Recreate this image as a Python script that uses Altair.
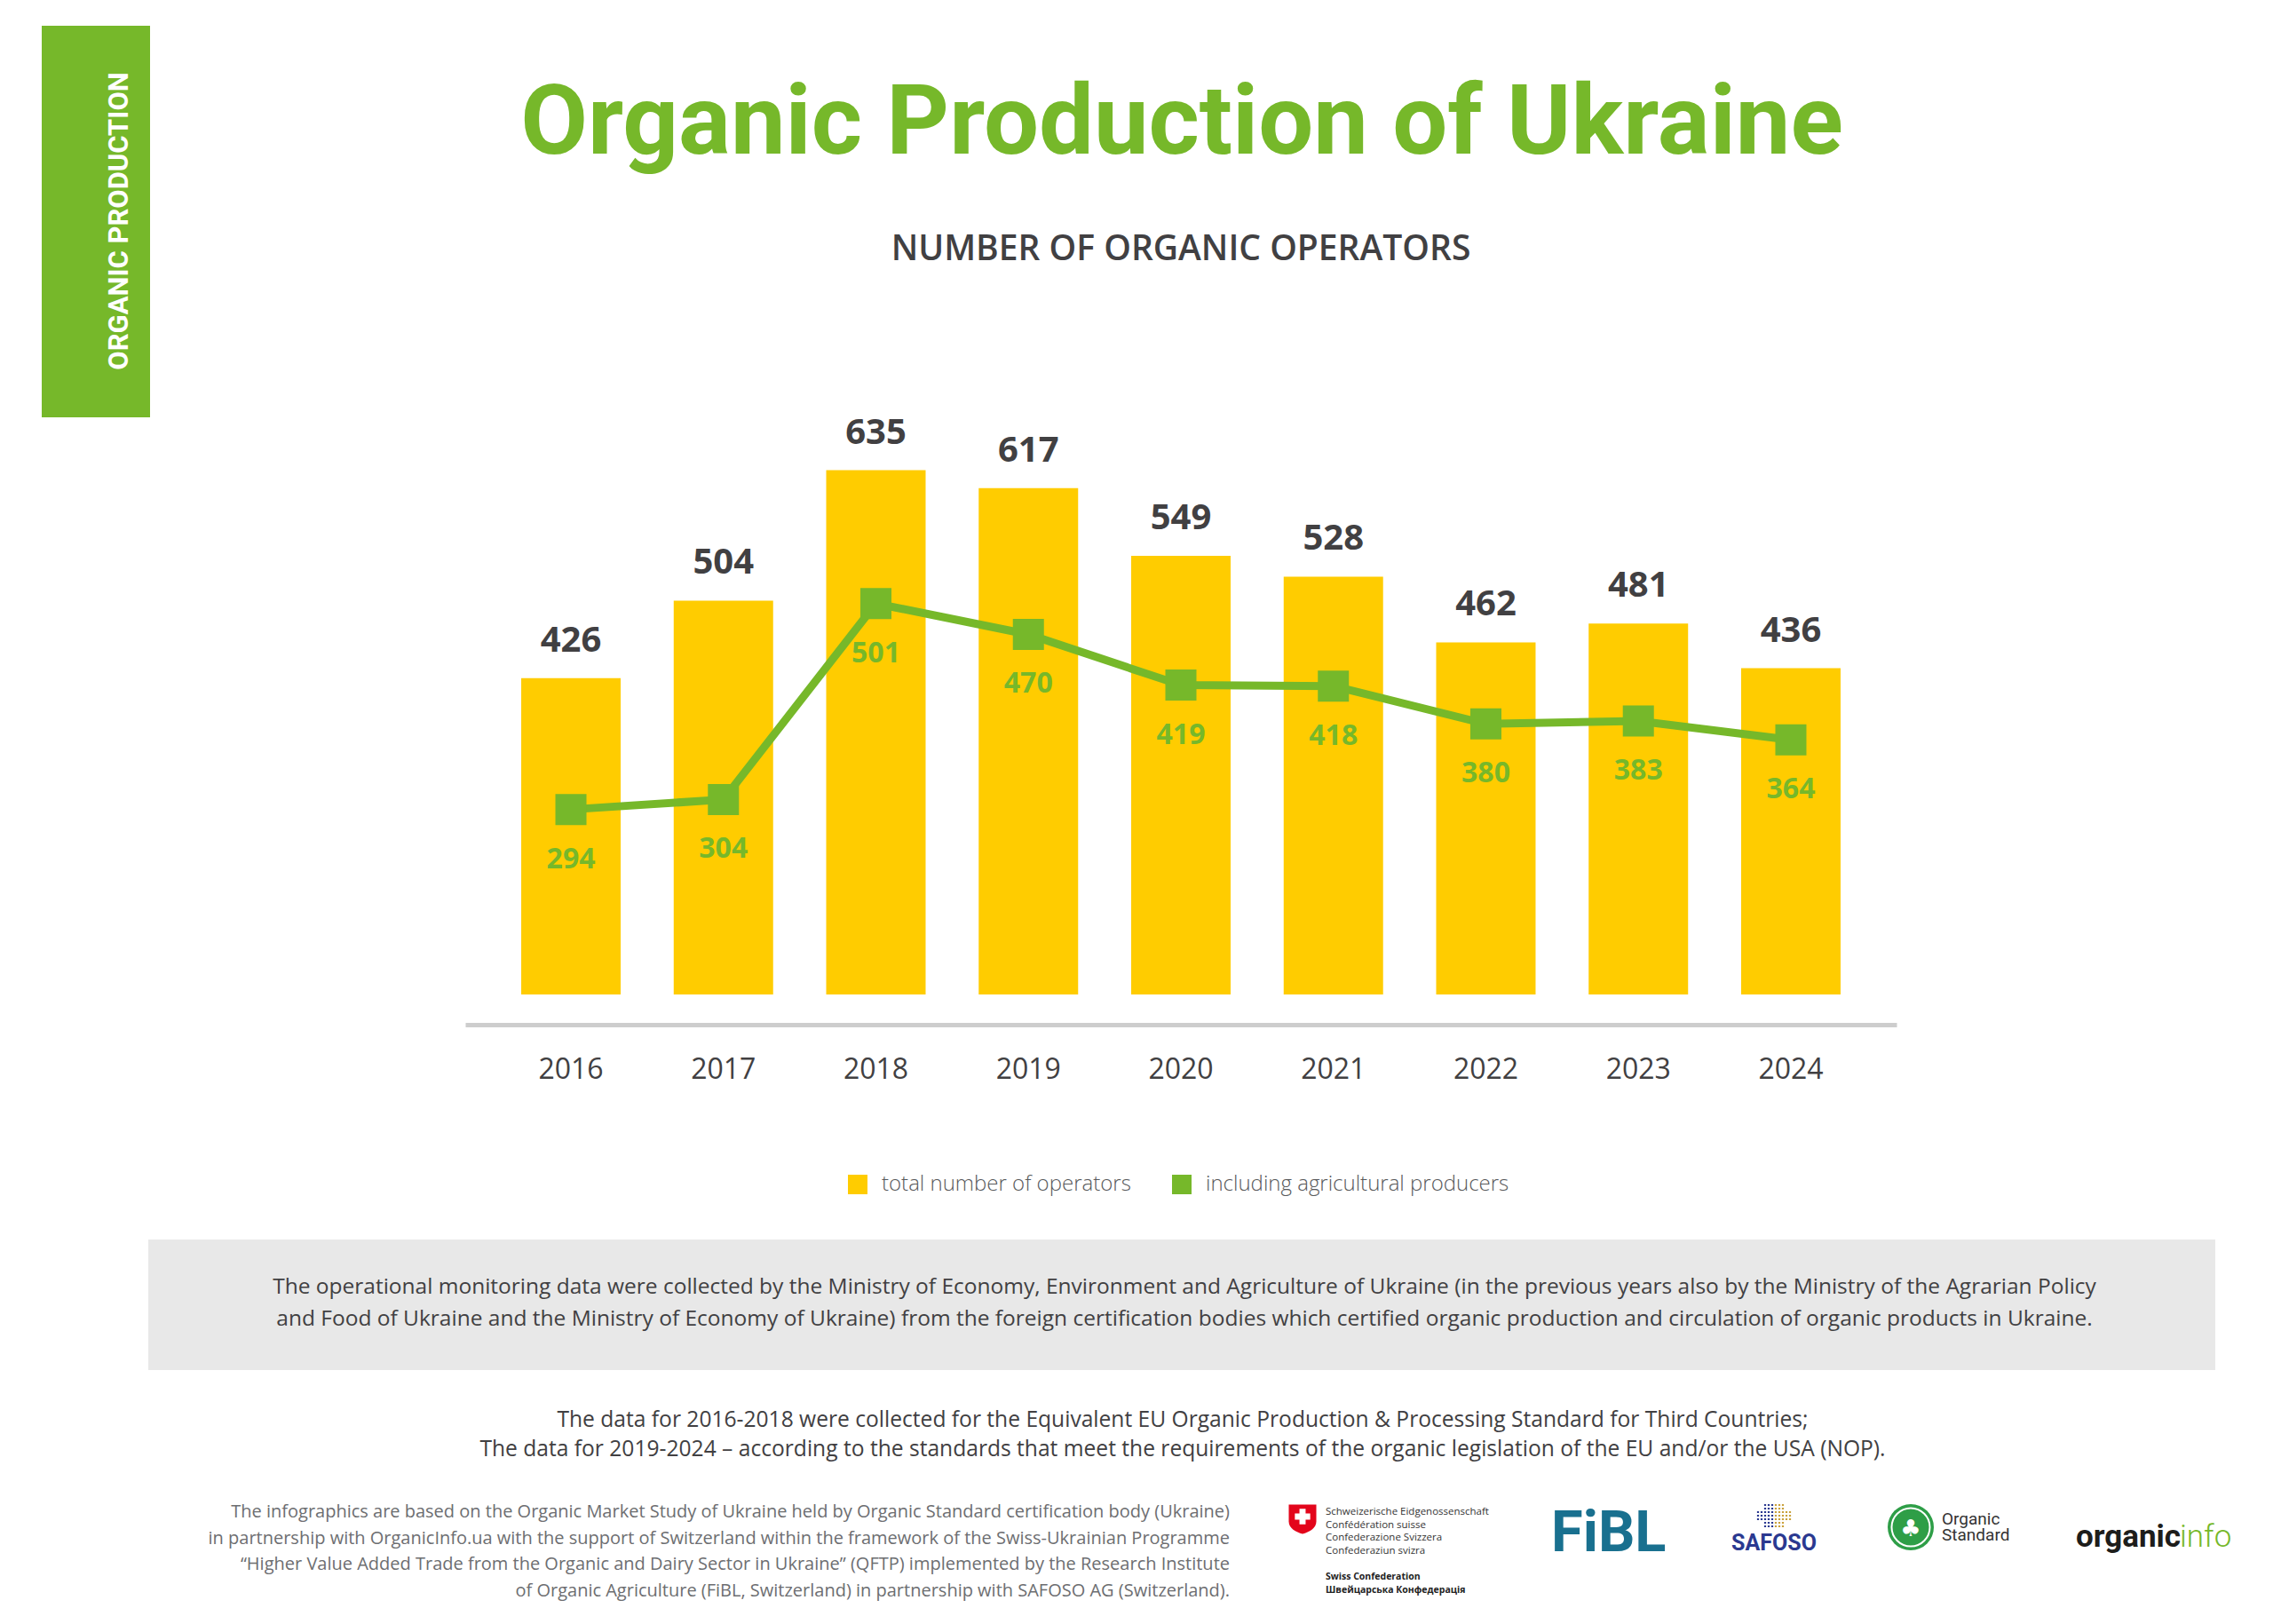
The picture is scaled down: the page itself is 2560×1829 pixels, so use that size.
import altair as alt
import pandas as pd

# ---------------------------------------------------------------- data
years = ["2016", "2017", "2018", "2019", "2020", "2021", "2022", "2023", "2024"]
total_operators = [426, 504, 635, 617, 549, 528, 462, 481, 436]
agri_producers = [294, 304, 501, 470, 419, 418, 380, 383, 364]
series_names = ["total number of operators", "including agricultural producers"]

# ---------------------------------------------------------------- texts
TITLE = "Organic Production of Ukraine"
SUBTITLE = "NUMBER OF ORGANIC OPERATORS"
SIDE_TAB = "ORGANIC PRODUCTION"
BOX_NOTE = [
    "The operational monitoring data were collected by the Ministry of Economy, Environment and Agriculture of Ukraine (in the previous years also by the Ministry of the Agrarian Policy",
    "and Food of Ukraine and the Ministry of Economy of Ukraine) from the foreign certification bodies which certified organic production and circulation of organic products in Ukraine.",
]
DATA_NOTE = [
    "The data for 2016-2018 were collected for the Equivalent EU Organic Production & Processing Standard for Third Countries;",
    "The data for 2019-2024 \u2013 according to the standards that meet the requirements of the organic legislation of the EU and/or the USA (NOP).",
]
CREDITS = [
    "The infographics are based on the Organic Market Study of Ukraine held by Organic Standard certification body (Ukraine)",
    "in partnership with OrganicInfo.ua with the support of Switzerland within the framework of the Swiss-Ukrainian Programme",
    "\u201cHigher Value Added Trade from the Organic and Dairy Sector in Ukraine\u201d (QFTP) implemented by the Research Institute",
    "of Organic Agriculture (FiBL, Switzerland) in partnership with SAFOSO AG (Switzerland).",
]
SWISS_NAMES = [
    "Schweizerische Eidgenossenschaft",
    "Conf\u00e9d\u00e9ration suisse",
    "Confederazione Svizzera",
    "Confederaziun svizra",
]
SWISS_EN_UA = ["Swiss Confederation", "\u0428\u0432\u0435\u0439\u0446\u0430\u0440\u0441\u044c\u043a\u0430 \u041a\u043e\u043d\u0444\u0435\u0434\u0435\u0440\u0430\u0446\u0456\u044f"]

# ---------------------------------------------------------------- style
YELLOW = "#FFCC00"
GREEN = "#76B82A"
DARK = "#414042"
GREY_TEXT = "#6D6E71"
BOX_GREY = "#E8E8E8"
AXIS_GREY = "#CDCDCD"
NARROW = "Liberation Sans Narrow, Open Sans, sans-serif"

PAGE_W, PAGE_H = 2560, 1829
PLOT_LEFT, PLOT_TOP, PLOT_W, PLOT_H = 524, 440, 1612, 680
Y_DOMAIN = [108, 715]

# ---------------------------------------------------------------- table
records = [
    {"year": y, "series": series_names[0], "value": v}
    for y, v in zip(years, total_operators)
] + [
    {"year": y, "series": series_names[1], "value": v}
    for y, v in zip(years, agri_producers)
]
df = pd.DataFrame(records)
totals = df[df["series"] == series_names[0]]
agri = df[df["series"] == series_names[1]]

# ---------------------------------------------------------------- encodings
x_enc = alt.X(
    "year:O",
    sort=years,
    title=None,
    scale=alt.Scale(paddingInner=0.348, paddingOuter=0.367),
    axis=alt.Axis(
        labelAngle=0,
        ticks=False,
        tickSize=0,
        grid=False,
        domainColor=AXIS_GREY,
        domainWidth=5,
        offset=34,
        labelFont=NARROW,
        labelFontSize=32,
        labelColor=DARK,
        labelBaseline="alphabetic",
        labelPadding=60,
    ),
)
y_enc = alt.Y("value:Q", scale=alt.Scale(domain=Y_DOMAIN, nice=False, zero=False), axis=None)
color_enc = alt.Color(
    "series:N",
    scale=alt.Scale(domain=series_names, range=[YELLOW, GREEN]),
    legend=alt.Legend(
        title=None,
        orient="none",
        legendX=430,
        legendY=882,
        direction="horizontal",
        symbolType="square",
        symbolSize=484,
        symbolStrokeWidth=0,
        symbolOpacity=1,
        labelFont="Open Sans",
        labelFontSize=24,
        labelFontWeight=300,
        labelColor="#58595B",
        labelOffset=15,
        labelLimit=800,
        columnPadding=45,
        padding=0,
    ),
)

bars = alt.Chart(totals).mark_bar().encode(
    x=x_enc, y=y_enc, y2=alt.datum(Y_DOMAIN[0]), color=color_enc
)
line = alt.Chart(agri).mark_line(color=GREEN, strokeWidth=9).encode(x=x_enc, y=y_enc)
points = alt.Chart(agri).mark_point(shape="square", filled=True, size=1225, opacity=1).encode(
    x=x_enc, y=y_enc, color=color_enc
)
total_labels = alt.Chart(totals).mark_text(
    font=NARROW, fontWeight="bold", fontSize=40, color=DARK, baseline="alphabetic", dy=-30
).encode(x=x_enc, y=y_enc, text="value:Q")
agri_labels = alt.Chart(agri).mark_text(
    font=NARROW, fontWeight="bold", fontSize=32, color=GREEN, baseline="alphabetic", dy=66
).encode(x=x_enc, y=y_enc, text="value:Q")


# ---------------------------------------------------------------- page furniture
def px(x):
    return alt.value(x - PLOT_LEFT)


def py(y):
    return alt.value(y - PLOT_TOP)


def text_block(lines, x, y, **style):
    return alt.Chart(pd.DataFrame({"txt": ["\n".join(lines)]})).mark_text(
        lineBreak="\n", **style
    ).encode(x=px(x), y=py(y), text="txt:N")


def rect_block(x0, y0, x1, y1, color):
    return alt.Chart(pd.DataFrame({"k": [0]})).mark_rect(color=color).encode(
        x=px(x0), x2=px(x1), y=py(y0), y2=py(y1)
    )


def symbol(shape, x, y, size, **style):
    return alt.Chart(pd.DataFrame({"k": [0]})).mark_point(shape=shape, size=size, **style).encode(
        x=px(x), y=py(y)
    )


def dot_grid(cols, rows, col_range):
    # little squares arranged as a plus shape, for the SAFOSO emblem
    step = 2.0 / cols
    d = step * 0.55
    parts = []
    for r in range(rows):
        for c in range(col_range[0], col_range[1]):
            corner = (c < 2 or c > cols - 3) and (r < 2 or r > rows - 3)
            if corner:
                continue
            cx = -1 + (c + 0.5) * step
            cy = -1 + (r + 0.5 + (cols - rows) / 2) * step
            parts.append(f"M{cx - d/2:.3f},{cy - d/2:.3f}h{d:.3f}v{d:.3f}h{-d:.3f}Z")
    return "".join(parts)


SHIELD = "M-0.94,-1 L0.94,-1 L0.94,0.15 C0.94,0.62 0.45,0.88 0,1 C-0.45,0.88 -0.94,0.62 -0.94,0.15 Z"

side_tab = rect_block(47, 29, 169, 470, GREEN)
side_text = text_block([SIDE_TAB], 135, 249, font="Roboto", fontWeight="bold", fontSize=31,
                       color="white", angle=270, align="center", baseline="middle")
title = text_block([TITLE], 1331, 173, font="Roboto", fontWeight="bold", fontSize=110,
                   color=GREEN, align="center", baseline="alphabetic")
subtitle = text_block([SUBTITLE], 1330, 293, font="Open Sans", fontWeight=600, fontSize=39,
                      color=DARK, align="center", baseline="alphabetic")

note_box = rect_block(167, 1396, 2495, 1543, BOX_GREY)
note_text = text_block(BOX_NOTE, 1334, 1457, font="Open Sans", fontSize=24.5, lineHeight=36,
                       color=DARK, align="center", baseline="alphabetic")
data_note = text_block(DATA_NOTE, 1332, 1607, font="Open Sans", fontSize=24.6, lineHeight=33,
                       color=DARK, align="center", baseline="alphabetic")
credits = text_block(CREDITS, 1385, 1709, font="Open Sans", fontSize=20, lineHeight=29.5,
                     color=GREY_TEXT, align="right", baseline="alphabetic")

# Swiss Confederation
swiss_shield = symbol(SHIELD, 1467, 1711, 1089, filled=True, color="#E3051B", opacity=1)
swiss_cross = symbol("cross", 1467, 1708, 300, filled=True, color="white", opacity=1)
swiss_names = text_block(SWISS_NAMES, 1493, 1706, font="Open Sans", fontSize=11.5, lineHeight=14.5,
                         color="#333333", align="left", baseline="alphabetic")
swiss_en_ua = text_block(SWISS_EN_UA, 1493, 1779, font="Open Sans", fontWeight="bold", fontSize=10.5,
                         lineHeight=14.5, color="#222222", align="left", baseline="alphabetic")
# FiBL
fibl = text_block(["FiBL"], 1747, 1747, font="Roboto", fontWeight="bold", fontSize=65,
                  color="#19708F", align="left", baseline="alphabetic")
# SAFOSO
safoso_blue = symbol(dot_grid(10, 7, (0, 5)), 1998, 1707, 1600, filled=True, color="#2B3990", opacity=1)
safoso_gold = symbol(dot_grid(10, 7, (5, 10)), 1998, 1707, 1600, filled=True, color="#C9A13B", opacity=1)
safoso = text_block(["SAFOSO"], 1998, 1746, font="Roboto", fontWeight="bold", fontSize=25,
                    color="#2B3990", align="center", baseline="alphabetic")
# Organic Standard
os_disc = symbol("circle", 2152, 1720, 2704, filled=True, color="#2E9E47", opacity=1)
os_ring = symbol("circle", 2152, 1720, 1850, filled=False, color="white", strokeWidth=2, opacity=1)
os_tree = text_block(["\u2663"], 2152, 1722, font="DejaVu Sans", fontSize=26, color="white",
                     align="center", baseline="middle")
os_name = text_block(["Organic", "Standard"], 2187, 1717, font="Roboto", fontSize=19, lineHeight=18,
                     color="#333333", align="left", baseline="alphabetic")
# organicinfo
oi_organic = text_block(["organic"], 2338, 1742, font="Roboto", fontWeight="bold", fontSize=35,
                        color="#1D1D1B", align="left", baseline="alphabetic")
oi_info = text_block(["info"], 2455, 1742, font="Roboto", fontWeight=300, fontSize=35,
                     color=GREEN, align="left", baseline="alphabetic")

chart = alt.layer(
    side_tab, side_text, title, subtitle,
    bars, line, points, total_labels, agri_labels,
    note_box, note_text, data_note, credits,
    swiss_shield, swiss_cross, swiss_names, swiss_en_ua,
    fibl, safoso_blue, safoso_gold, safoso,
    os_disc, os_ring, os_tree, os_name,
    oi_organic, oi_info,
).properties(
    width=PLOT_W,
    height=PLOT_H,
    padding={
        "left": PLOT_LEFT,
        "top": PLOT_TOP,
        "right": PAGE_W - PLOT_LEFT - PLOT_W,
        "bottom": PAGE_H - PLOT_TOP - PLOT_H,
    },
    autosize=alt.AutoSizeParams(type="none"),
    background="white",
).configure_view(stroke=None)

chart.save("out.html", embed_options={"renderer": "svg", "actions": False})
